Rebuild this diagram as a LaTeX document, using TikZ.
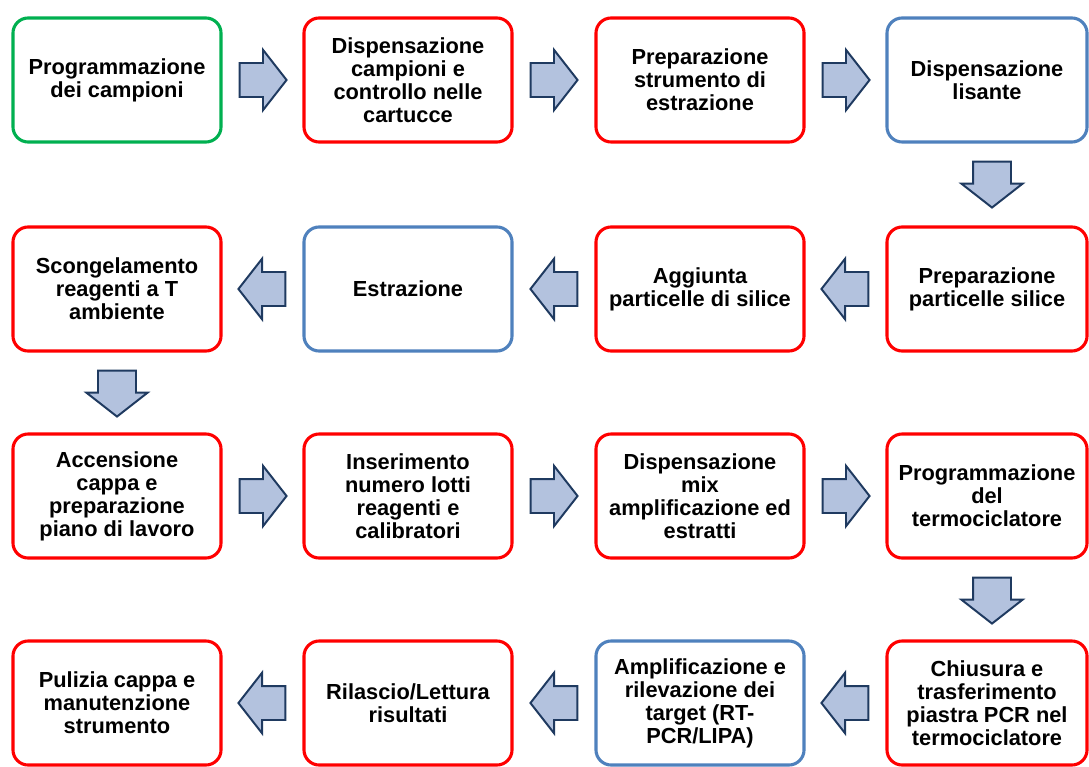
\documentclass[tikz,border=0pt]{standalone}
\usepackage{fontspec}
\setmainfont{Liberation Sans}
\usepackage{tikz}
\usetikzlibrary{shapes.arrows,calc}
\definecolor{verde}{HTML}{00B050}
\definecolor{rosso}{HTML}{FF0000}
\definecolor{blu}{HTML}{4F81BD}
\definecolor{frfill}{HTML}{B3C2DE}
\definecolor{frdraw}{HTML}{1F3A60}
\tikzset{
  fase/.style = {rectangle, rounded corners=0.38cm, align=center,
    minimum width=5.2cm, minimum height=3.1cm, line width=2.2pt,
    fill=white, text=black,
    font=\fontsize{15.5}{16.4}\selectfont\bfseries},
  fase_r/.style = {fase, draw=rosso},% fase rossa
  fase_g/.style = {fase, draw=verde},% fase verde
  fase_b/.style = {fase, draw=blu},% fase blu
  fase_x/.style = {minimum width=5cm},% ultima colonna, tagliata
  freccia/.style = {single arrow, draw=frdraw, fill=frfill,
    line width=1.4pt, inner xsep=0pt, inner ysep=0.4cm,
    minimum height=1.175cm, anchor=tail,
    single arrow head extend=0.33cm, single arrow tip angle=104},
  fr_dx/.style = {freccia},
  fr_sx/.style = {freccia, rotate=180},
  fr_giu/.style = {freccia, rotate=-90, inner ysep=0.45cm,
    minimum height=1.15cm, single arrow head extend=0.29cm}
}

\begin{document}
\begin{tikzpicture}[x=0.025cm, y=-0.025cm]
  \fill[white] (0,0) rectangle (1089,767);
  \clip (0,0) rectangle (1089,767);
  % riga 1
  \node [fase_g] (a1) at (117,80) {Programmazione\\dei campioni};
  \node [fase_r] (a2) at (408,80) {Dispensazione\\campioni e\\controllo nelle\\cartucce};
  \node [fase_r] (a3) at (700,80) {Preparazione\\strumento di\\estrazione};
  \node [fase_b, fase_x] (a4) at (987,80) {Dispensazione\\lisante};
  % riga 2
  \node [fase_r, fase_x] (b4) at (987,289) {Preparazione\\particelle silice};
  \node [fase_r] (b3) at (700,289) {Aggiunta\\particelle di silice};
  \node [fase_b] (b2) at (408,289) {Estrazione};
  \node [fase_r] (b1) at (117,289) {Scongelamento\\reagenti a T\\ambiente};
  % riga 3
  \node [fase_r] (c1) at (117,496) {Accensione\\cappa e\\preparazione\\piano di lavoro};
  \node [fase_r] (c2) at (408,496) {Inserimento\\numero lotti\\reagenti e\\calibratori};
  \node [fase_r] (c3) at (700,496) {Dispensazione\\mix\\amplificazione ed\\estratti};
  \node [fase_r, fase_x] (c4) at (987,496) {Programmazione\\del\\termociclatore};
  % riga 4
  \node [fase_r, fase_x] (d4) at (987,703) {Chiusura e\\trasferimento\\piastra PCR nel\\termociclatore};
  \node [fase_b] (d3) at (700,703) {Amplificazione e\\rilevazione dei\\target (RT-\\PCR/LIPA)};
  \node [fase_r] (d2) at (408,703) {Rilascio/Lettura\\risultati};
  \node [fase_r] (d1) at (117,703) {Pulizia cappa e\\manutenzione\\strumento};
  % frecce
  \node [fr_dx] (f12) at ($(a1.east)+(16,0)$) {};
  \node [fr_dx] (f23) at ($(a2.east)+(16,0)$) {};
  \node [fr_dx] (f34) at ($(a3.east)+(16,0)$) {};
  \node [fr_giu] (f4b) at ($(a4.south)+(5,17)$) {};
  \node [fr_sx] (f43) at ($(b4.west)+(-16,0)$) {};
  \node [fr_sx] (f32) at ($(b3.west)+(-16,0)$) {};
  \node [fr_sx] (f21) at ($(b2.west)+(-16,0)$) {};
  \node [fr_giu] (f1c) at ($(b1.south)+(0,17)$) {};
  \node [fr_dx] (g12) at ($(c1.east)+(16,0)$) {};
  \node [fr_dx] (g23) at ($(c2.east)+(16,0)$) {};
  \node [fr_dx] (g34) at ($(c3.east)+(16,0)$) {};
  \node [fr_giu] (g4d) at ($(c4.south)+(5,17)$) {};
  \node [fr_sx] (h43) at ($(d4.west)+(-16,0)$) {};
  \node [fr_sx] (h32) at ($(d3.west)+(-16,0)$) {};
  \node [fr_sx] (h21) at ($(d2.west)+(-16,0)$) {};
\end{tikzpicture}
\end{document}
